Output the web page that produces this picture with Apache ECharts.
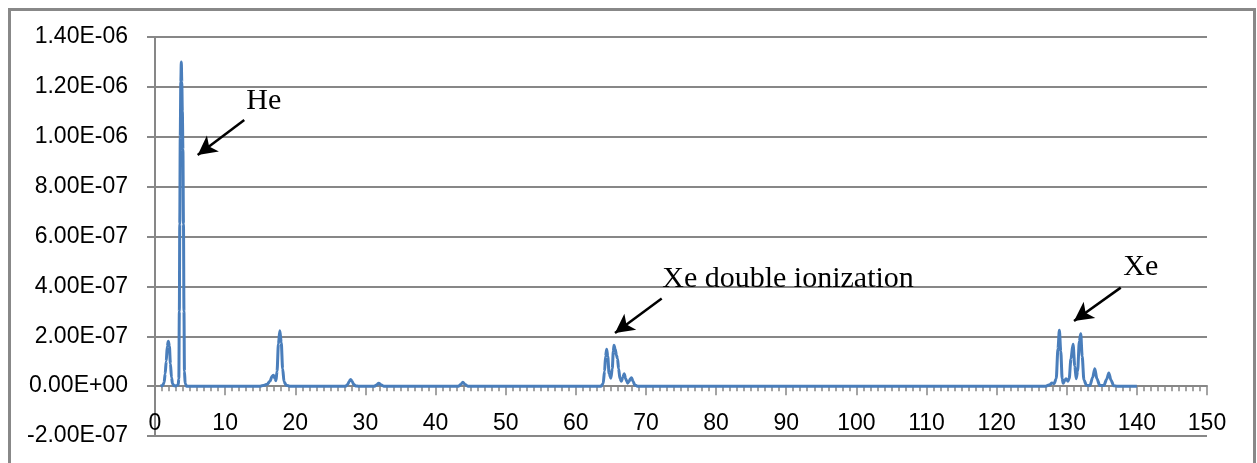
<!DOCTYPE html>
<html>
<head>
<meta charset="utf-8">
<script src="https://cdn.jsdelivr.net/npm/echarts@6/dist/echarts.min.js"></script>
<style>
html,body{margin:0;padding:0;background:#fff;}
#chart{width:1257px;height:463px;}
</style>
</head>
<body>
<div id="chart"></div>
<script>
// m/z values (x) and signal (y)
const massValues = [
  0.8,1.1,1.3,1.45,1.6,1.75,1.9,2.05,2.2,2.35,2.5,2.7,3.0,
  3.3,3.4,3.47,3.53,3.6,3.68,3.75,3.82,3.9,3.98,4.06,4.13,4.2,4.3,4.5,
  5,10,15,15.6,16.0,16.4,16.7,16.9,17.1,17.25,17.4,17.6,17.8,18.0,18.2,18.4,18.7,19.2,
  20,25,27.2,27.5,27.7,27.9,28.1,28.3,28.6,29,
  31.3,31.6,31.9,32.2,32.6,35,40,43.3,43.6,43.9,44.2,44.6,50,60,
  63.6,63.9,64.1,64.25,64.4,64.55,64.75,65.0,65.2,65.35,65.45,65.6,65.8,65.95,66.1,66.3,66.5,66.7,66.9,67.1,67.4,67.6,67.8,67.95,68.15,68.4,68.8,
  70,80,90,100,110,120,127.0,
  127.6,127.9,128.2,128.5,128.75,128.95,129.15,129.35,129.5,129.7,129.9,130.15,130.35,130.6,130.9,131.15,131.35,131.55,131.8,132.0,132.2,132.45,132.8,
  133.3,133.7,134.0,134.3,134.7,135.3,135.7,136.0,136.3,136.7,137.2,140
];
const signal = [
  0,0.003e-6,0.015e-6,0.05e-6,0.1e-6,0.16e-6,0.18e-6,0.16e-6,0.09e-6,0.035e-6,0.01e-6,0.002e-6,0.001e-6,
  0.005e-6,0.03e-6,0.3e-6,0.65e-6,1.0e-6,1.22e-6,1.3e-6,1.22e-6,1.1e-6,0.95e-6,0.65e-6,0.3e-6,0.06e-6,0.01e-6,0,
  0,0,0,0.004e-6,0.008e-6,0.02e-6,0.04e-6,0.044e-6,0.03e-6,0.022e-6,0.06e-6,0.17e-6,0.222e-6,0.175e-6,0.07e-6,0.018e-6,0.004e-6,0,
  0,0,0,0.008e-6,0.02e-6,0.027e-6,0.02e-6,0.008e-6,0.001e-6,0,
  0,0.005e-6,0.012e-6,0.006e-6,0,0,0,0,0.007e-6,0.016e-6,0.007e-6,0,0,0,
  0,0.01e-6,0.06e-6,0.12e-6,0.148e-6,0.12e-6,0.05e-6,0.032e-6,0.07e-6,0.14e-6,0.164e-6,0.15e-6,0.124e-6,0.11e-6,0.07e-6,0.03e-6,0.02e-6,0.035e-6,0.05e-6,0.03e-6,0.012e-6,0.02e-6,0.03e-6,0.034e-6,0.02e-6,0.005e-6,0,
  0,0,0,0,0,0,0,
  0.006e-6,0.013e-6,0.01e-6,0.03e-6,0.15e-6,0.224e-6,0.14e-6,0.03e-6,0.012e-6,0.022e-6,0.03e-6,0.02e-6,0.03e-6,0.11e-6,0.168e-6,0.08e-6,0.03e-6,0.06e-6,0.18e-6,0.21e-6,0.12e-6,0.025e-6,0.004e-6,
  0.002e-6,0.035e-6,0.07e-6,0.03e-6,0.003e-6,0.003e-6,0.028e-6,0.053e-6,0.025e-6,0.002e-6,0,0
];
const xTickLabels = ['0','10','20','30','40','50','60','70','80','90','100','110','120','130','140','150'];
const yTickLabels = ['-2.00E-07','0.00E+00','2.00E-07','4.00E-07','6.00E-07','8.00E-07','1.00E-06','1.20E-06','1.40E-06'];
// annotations (data coordinates)
const annotationTexts = ['He', 'Xe double ionization', 'Xe'];
const annotationTextPos = [[12.95, 1.144e-6], [72.25, 4.28e-7], [138.0, 4.76e-7]];
const arrowTails = [[12.73, 1.067e-6], [72.25, 3.51e-7], [137.7, 3.95e-7]];
const arrowHeads = [[6.09, 9.27e-7], [65.59, 2.13e-7], [131.04, 2.61e-7]];

const seriesData = massValues.map((m, i) => [m, signal[i]]);
const yMin = -2e-7, yMax = 1.4e-6, yStep = 2e-7;

function yLabel(v) {
  const idx = Math.round((v - yMin) / yStep);
  return yTickLabels[idx] !== undefined ? yTickLabels[idx] : '';
}
function xLabel(v) {
  const idx = Math.round(v / 10);
  return xTickLabels[idx] !== undefined ? xTickLabels[idx] : '';
}

const gray = '#878787';
const chart = echarts.init(document.getElementById('chart'));
chart.setOption({
  animation: false,
  backgroundColor: '#ffffff',
  grid: { left: 155, right: 50, top: 37, bottom: 27, containLabel: false, outerBoundsMode: 'none' },
  xAxis: {
    type: 'value', min: 0, max: 150, interval: 10,
    axisLine: { show: true, onZero: true, lineStyle: { color: gray, width: 2 } },
    axisTick: { show: true, length: 9, lineStyle: { color: gray, width: 1.5 } },
    minorTick: { show: true, splitNumber: 10, length: 5, lineStyle: { color: gray, width: 1.5 } },
    splitLine: { show: false },
    axisLabel: { formatter: xLabel, margin: -24, color: '#000', fontSize: 23, fontFamily: 'Liberation Sans, Arial, sans-serif' }
  },
  yAxis: {
    type: 'value', min: yMin, max: yMax, interval: yStep,
    axisLine: { show: true, lineStyle: { color: gray, width: 2 } },
    axisTick: { show: true, length: 8, lineStyle: { color: gray, width: 2 } },
    splitLine: { show: true, lineStyle: { color: gray, width: 2 } },
    axisLabel: { formatter: yLabel, margin: 27, color: '#000', fontSize: 23, fontFamily: 'Liberation Sans, Arial, sans-serif' }
  },
  graphic: [{
    type: 'rect', silent: true, z: 100,
    shape: { x: 9.5, y: 9.5, width: 1245, height: 480 },
    style: { fill: 'none', stroke: '#888888', lineWidth: 3 }
  }],
  series: [{
    type: 'line',
    data: seriesData,
    showSymbol: false,
    smooth: 0.3,
    smoothMonotone: 'x',
    lineStyle: { color: '#4A7EBB', width: 3 },
    itemStyle: { color: '#4A7EBB' },
    markLine: {
      silent: true,
      symbol: ['none', 'arrow'],
      symbolSize: [15, 19],
      label: { show: false },
      lineStyle: { color: '#000', width: 2.5, type: 'solid' },
      emphasis: { disabled: true },
      data: arrowTails.map((t, i) => [{ coord: t }, { coord: arrowHeads[i] }])
    },
    markPoint: {
      silent: true,
      symbol: 'circle',
      symbolSize: 1,
      itemStyle: { color: 'rgba(0,0,0,0)' },
      label: {
        show: true, position: 'right', distance: 0,
        color: '#000', fontFamily: 'Liberation Serif, Times New Roman, serif'
      },
      data: annotationTexts.map((t, i) => ({
        coord: annotationTextPos[i],
        label: { formatter: t, fontSize: 30 }
      }))
    }
  }]
});
</script>
</body>
</html>
